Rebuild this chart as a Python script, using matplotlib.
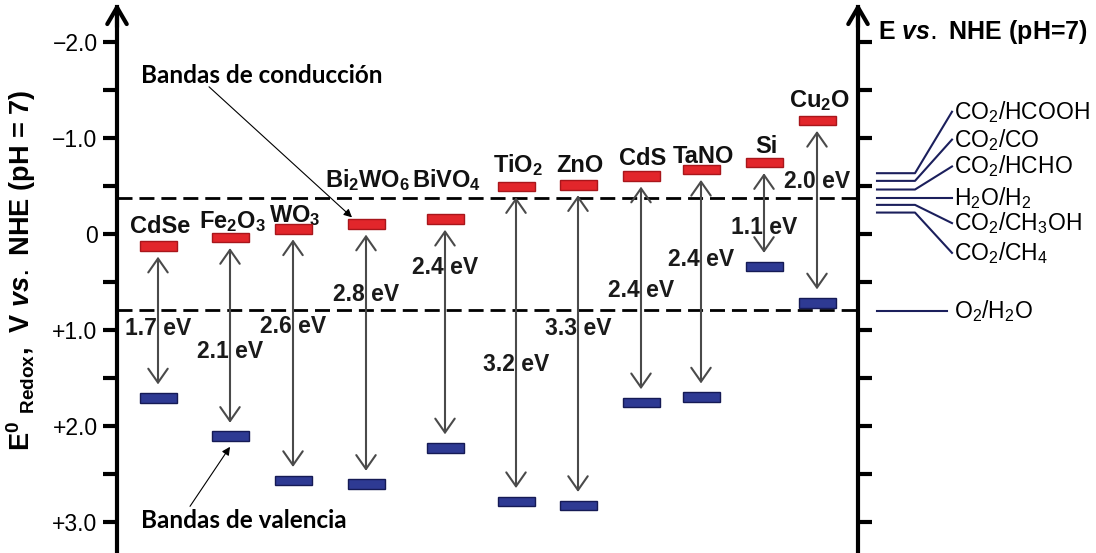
import matplotlib
matplotlib.use('Agg')
import matplotlib.pyplot as plt

# band edges (V vs NHE, pH 7)
materials = ['CdSe', 'Fe$_2$O$_3$', 'WO$_3$', 'Bi$_2$WO$_6$', 'BiVO$_4$', 'TiO$_2$',
             'ZnO', 'CdS', 'TaNO', 'Si', 'Cu$_2$O']
cb = [0.13, 0.04, -0.05, -0.10, -0.15, -0.49, -0.51, -0.60, -0.67, -0.74, -1.18]
vb = [1.71, 2.11, 2.57, 2.61, 2.23, 2.79, 2.83, 1.76, 1.70, 0.34, 0.72]
gaps = ['1.7 eV', '2.1 eV', '2.6 eV', '2.8 eV', '2.4 eV', '3.2 eV', '3.3 eV',
        '2.4 eV', '2.4 eV', '1.1 eV', '2.0 eV']

redox_names = ['CO$_2$/HCOOH', 'CO$_2$/CO', 'CO$_2$/HCHO', 'H$_2$O/H$_2$',
               'CO$_2$/CH$_3$OH', 'CO$_2$/CH$_4$', 'O$_2$/H$_2$O']
redox_E = [-0.63, -0.55, -0.46, -0.37, -0.30, -0.22, 0.81]

h2_level = -0.37
o2_level = 0.80

# layout (x in pixels, y in volts)
x_pos = [158, 230, 293, 366, 445, 516, 578, 641, 701, 764, 817]
name_y = [-0.01, -0.06, -0.12, -0.48, -0.48, -0.64, -0.64, -0.72, -0.74, -0.84, -1.32]
gap_y = [0.99, 1.23, 0.97, 0.63, 0.35, 1.36, 0.99, 0.59, 0.27, -0.06, -0.54]
redox_label_y = [-1.27, -0.98, -0.70, -0.37, -0.11, 0.20, 0.81]

plt.rcParams['font.family'] = ['Liberation Sans', 'DejaVu Sans']
plt.rcParams['mathtext.fontset'] = 'custom'
plt.rcParams['mathtext.default'] = 'regular'
plt.rcParams['mathtext.it'] = 'Liberation Sans:italic:bold'

fig = plt.figure(figsize=(10.96, 5.53), dpi=100)
ax = fig.add_axes([117 / 1096, 0, 741 / 1096, 1])
ax.set_xlim(117, 858)
ax.set_ylim(3.326, -2.434)
ax.patch.set_visible(False)

for s in ['top', 'bottom']:
    ax.spines[s].set_visible(False)
for s in ['left', 'right']:
    ax.spines[s].set_linewidth(3)
    ax.spines[s].set_bounds(-2.36, 3.326)
for xa in [117, 858]:
    ax.annotate('', xy=(xa, -2.40), xytext=(xa, -2.15),
                arrowprops=dict(arrowstyle='->,head_length=0.6,head_width=0.35',
                                lw=3, color='black', shrinkA=0, shrinkB=0,
                                mutation_scale=20),
                annotation_clip=False)

ax.set_xticks([])
ax.set_yticks([-2, -1, 0, 1, 2, 3])
ax.set_yticklabels(['\u22122.0', '\u22121.0', '0', '+1.0', '+2.0', '+3.0'])
ax.set_yticks([-1.5, -0.5, 0.5, 1.5, 2.5], minor=True)
ax.tick_params(axis='y', which='both', direction='out', length=10, width=3,
               left=True, right=True, labelright=False, labelsize=16.5, pad=4)

# band edges
ax.bar(x_pos, 0.1, bottom=[c - 0.05 for c in cb], width=37,
       color='#e2262b', edgecolor='#a8161b', lw=1, zorder=3)
ax.bar(x_pos, 0.1, bottom=[v - 0.05 for v in vb], width=37,
       color='#2e3a93', edgecolor='#151a55', lw=1, zorder=3)

# water redox levels
ax.axhline(h2_level, color='black', lw=2, dashes=(5.4, 2.5), zorder=2)
ax.axhline(o2_level, color='black', lw=2, dashes=(5.4, 2.5), zorder=2)

for x, c, v, g, ny, gy, name in zip(x_pos, cb, vb, gaps, name_y, gap_y, materials):
    ax.annotate('', xy=(x, v - 0.14), xytext=(x, c + 0.11),
                arrowprops=dict(arrowstyle='<->,head_length=0.5,head_width=0.35',
                                color='#4a4a4a', lw=1.5, mutation_scale=20,
                                shrinkA=0, shrinkB=0), zorder=4)
    ax.text(x, gy, g, ha='center', va='center', fontsize=16.5,
            fontweight='bold', color='#1a1a1a', zorder=3)
    ax.text(x + 2, ny, name, ha='center', va='baseline', fontsize=17,
            fontweight='bold', color='#111111', zorder=2)

# CO2 reduction levels on the right
for i, (name, e, ly) in enumerate(zip(redox_names, redox_E, redox_label_y)):
    if i < 6:
        ax.plot([877, 915, 952], [e, e, ly], color='#1b1f5c', lw=1.5, clip_on=False)
    else:
        ax.plot([877, 947], [e, e], color='#1b1f5c', lw=1.5, clip_on=False)
    ax.text(954, ly, name, ha='left', va='center', fontsize=16.5, clip_on=False)

ax.text(878, -2.10, r'E $\mathit{vs.}$ NHE (pH=7)', ha='left', va='center',
        fontsize=18, fontweight='bold')

fig.text(21 / 1096, (553 - 270) / 553,
         r'E$^0$ $_{Redox}$,  V $\mathit{vs.}$ NHE (pH = 7)',
         rotation=90, ha='center', va='center', fontsize=19.5, fontweight='bold')

# Spanish annotations
ax.text(141, -1.65, 'Bandas de conducción', ha='left', va='center',
        fontsize=17.5, fontweight='bold', family='Lato')
ax.annotate('', xy=(352, -0.17), xytext=(209, -1.53),
            arrowprops=dict(arrowstyle='-|>', lw=0.8, color='black',
                            mutation_scale=12, shrinkA=0, shrinkB=0))
ax.text(141, 2.99, 'Bandas de valencia', ha='left', va='center',
        fontsize=17.5, fontweight='bold', family='Lato')
ax.annotate('', xy=(230, 2.22), xytext=(190, 2.84),
            arrowprops=dict(arrowstyle='-|>', lw=0.8, color='black',
                            mutation_scale=12, shrinkA=0, shrinkB=0))

fig.savefig('out.png', dpi=100)
